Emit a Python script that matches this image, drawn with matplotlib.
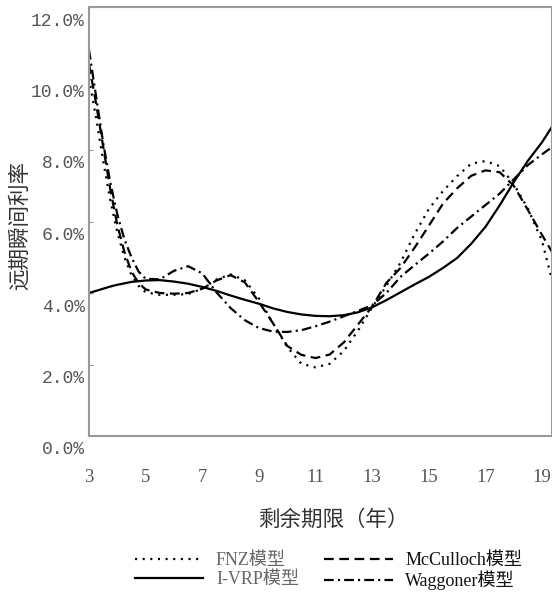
import matplotlib
matplotlib.use("Agg")
import matplotlib.pyplot as plt
import matplotlib.transforms as mtransforms

plt.rcParams['lines.scale_dashes'] = False

# remaining maturity (years)
years = [3.0, 3.25, 3.5, 3.75, 4.0, 4.25, 4.5, 4.75, 5.0, 5.5, 6.0, 6.5, 7.0, 7.5,
         8.0, 8.5, 9.0, 9.5, 10.0, 10.5, 11.0, 11.5, 12.0, 12.5, 13.0, 13.5, 14.0,
         14.5, 15.0, 15.5, 16.0, 16.5, 17.0, 17.5, 18.0, 18.5, 19.0, 19.35]

# forward rates in %
fnz = [10.0, 8.9, 7.7, 6.6, 5.7, 5.0, 4.5, 4.2, 4.02, 3.95, 3.95, 3.97, 4.12, 4.38,
       4.52, 4.36, 3.85, 3.15, 2.49, 2.02, 1.92, 2.02, 2.38, 2.95, 3.60, 4.20, 4.85,
       5.65, 6.35, 6.85, 7.27, 7.62, 7.69, 7.55, 7.05, 6.36, 5.45, 4.36]
mcculloch = [10.4, 9.3, 8.1, 6.9, 5.9, 5.15, 4.6, 4.28, 4.1, 4.0, 3.98, 4.0, 4.12, 4.35,
             4.5, 4.3, 3.75, 3.15, 2.52, 2.27, 2.18, 2.28, 2.62, 3.12, 3.62, 4.28, 4.70,
             5.27, 5.88, 6.50, 6.93, 7.28, 7.43, 7.38, 7.00, 6.32, 5.62, 5.15]
ivrp = [4.00, 4.06, 4.12, 4.18, 4.23, 4.27, 4.31, 4.33, 4.35, 4.36, 4.32, 4.26, 4.17,
        4.06, 3.93, 3.81, 3.70, 3.57, 3.47, 3.40, 3.36, 3.35, 3.38, 3.46, 3.60, 3.80,
        4.02, 4.24, 4.45, 4.70, 4.98, 5.38, 5.85, 6.45, 7.10, 7.70, 8.22, 8.65]
waggoner = [10.8, 9.5, 8.2, 7.1, 6.2, 5.5, 5.0, 4.6, 4.4, 4.38, 4.62, 4.75, 4.55, 4.02,
            3.58, 3.24, 3.02, 2.92, 2.91, 2.96, 3.07, 3.20, 3.35, 3.50, 3.66, 4.0, 4.45,
            4.78, 5.10, 5.44, 5.82, 6.14, 6.46, 6.78, 7.18, 7.58, 7.88, 8.08]

x_ticks = [3, 5, 7, 9, 11, 13, 15, 17, 19]
y_ticks = [0, 2, 4, 6, 8, 10, 12]

cjk = ['Liberation Serif', 'Noto Sans CJK SC']

fig = plt.figure(figsize=(5.52, 6.02), dpi=100)
ax = fig.add_axes([89/552, 1 - 436/602, 463/552, 429/602])

ax.plot(years, fnz, color='black', lw=1.6, dashes=(1.5, 4), label='FNZ模型')
ax.plot(years, ivrp, color='black', lw=1.6, label='I-VRP模型')
ax.plot(years, mcculloch, color='black', lw=1.6, dashes=(7, 4), label='McCulloch模型')
ax.plot(years, waggoner, color='black', lw=1.6, dashes=(7, 3, 1.5, 3), label='Waggoner模型')

ax.set_xlim(3, 19.35)
ax.set_ylim(0, 12)
ax.set_xticks(x_ticks)
ax.set_yticks(y_ticks)
ax.set_xticklabels([str(v) for v in x_ticks], family='Liberation Serif', fontsize=13.5, color='#555555')
ax.set_yticklabels(['%.1f%%' % v for v in y_ticks], family='Liberation Mono', fontsize=13, color='#555555')
ax.tick_params(axis='x', length=0, pad=24)
ax.tick_params(axis='y', direction='in', length=3, color='#999999', pad=3)

# labels sit a bit below their ticks in the original
offset = mtransforms.ScaledTranslation(0, -0.12, fig.dpi_scale_trans)
for lab in ax.get_yticklabels():
    lab.set_transform(lab.get_transform() + offset)

for side in ['left', 'top', 'bottom', 'right']:
    ax.spines[side].set_color('#999999')
    ax.spines[side].set_linewidth(1.5)

ax.set_ylabel('远期瞬间利率', family='Noto Sans CJK SC', fontsize=15.5, color='#333333')
ax.yaxis.set_label_coords(-0.125, 0.49)
ax.set_xlabel('剩余期限（年）', family='Noto Sans CJK SC', fontsize=15.5, color='#333333')
ax.xaxis.set_label_coords(0.527, -0.17)

leg = ax.legend(loc='center', bbox_to_anchor=(0.595, 0.051), bbox_transform=fig.transFigure,
                ncol=2, frameon=False, handlelength=3.8, handletextpad=0.7,
                columnspacing=1.4, labelspacing=0.1, prop={'family': cjk, 'size': 13})
for txt, c in zip(leg.get_texts(), ['#666666', '#666666', '#111111', '#111111']):
    txt.set_color(c)

fig.savefig('out.png', dpi=100)
